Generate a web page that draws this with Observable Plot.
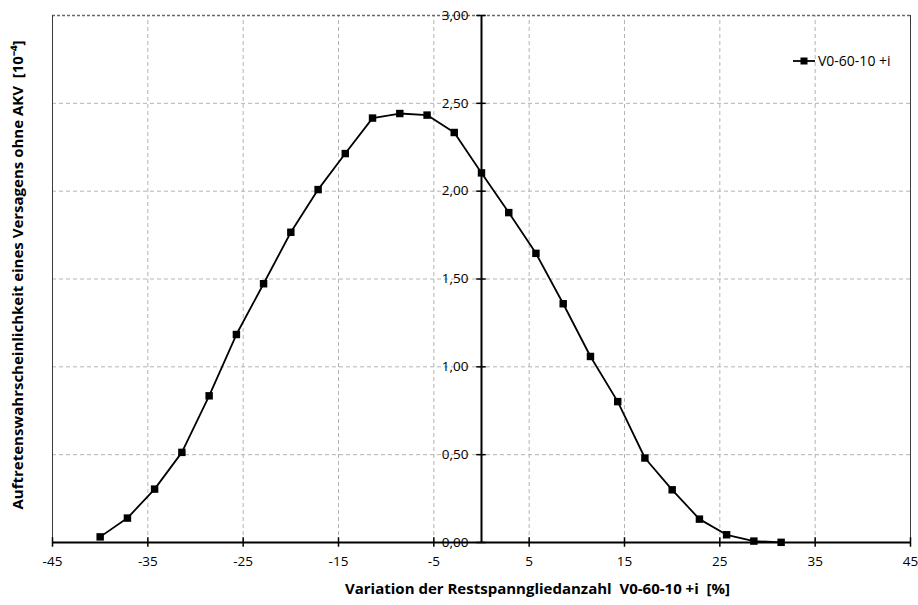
<!DOCTYPE html>
<html>
<head>
<meta charset="utf-8">
<script src="https://cdn.jsdelivr.net/npm/d3@7"></script>
<script src="https://cdn.jsdelivr.net/npm/@observablehq/plot@0.6"></script>
<style>
  html, body { margin: 0; padding: 0; background: #fff; }
  #wrap { position: relative; width: 918px; height: 605px; font-family: "Open Sans", sans-serif; }
  #wrap svg text { white-space: pre; }
  #legend { position: absolute; left: 792px; top: 51px; font-size: 14px; display: flex; align-items: center; color: #000; }
</style>
</head>
<body>
<div id="wrap"></div>
<script>
const xValues = [-40, -37.14, -34.29, -31.43, -28.57, -25.71, -22.86, -20, -17.14, -14.29, -11.43, -8.57, -5.71, -2.86, 0, 2.86, 5.71, 8.57, 11.43, 14.29, 17.14, 20, 22.86, 25.71, 28.57, 31.43];
const yValues = [0.032, 0.139, 0.304, 0.513, 0.835, 1.184, 1.473, 1.766, 2.009, 2.214, 2.416, 2.442, 2.433, 2.334, 2.104, 1.878, 1.646, 1.359, 1.059, 0.802, 0.481, 0.300, 0.133, 0.044, 0.008, 0.001];
const xTicks = [-45, -35, -25, -15, -5, 5, 15, 25, 35, 45];
const yTicks = [0, 0.5, 1, 1.5, 2, 2.5, 3];
const seriesName = "V0-60-10 +i";
const xTitle = "Variation der Restspanngliedanzahl\u00a0 V0-60-10 +i\u00a0 [%]";
const yTitle = "Auftretenswahrscheinlichkeit eines Versagens ohne AKV\u00a0 [10\u207B\u2074]";

const data = xValues.map((x, i) => ({x, y: yValues[i]}));
const fmt = d => d.toFixed(2).replace(".", ",");
const innerX = xTicks.filter(d => d !== -45 && d !== 45);
const innerY = yTicks.filter(d => d !== 0 && d !== 3);

const chart = Plot.plot({
  width: 918,
  height: 605,
  marginLeft: 52,
  marginRight: 8,
  marginTop: 15,
  marginBottom: 63,
  x: {domain: [-45, 45], axis: null},
  y: {domain: [0, 3], axis: null},
  style: {fontFamily: "Open Sans, sans-serif", fontSize: "13px", color: "#000", background: "#fff"},
  marks: [
    Plot.ruleX(innerX, {x: d => d, y1: 0, y2: 3, stroke: "#b4b4b4", strokeDasharray: "4,3"}),
    Plot.ruleY(innerY, {y: d => d, x1: -45, x2: 45, stroke: "#b4b4b4", strokeDasharray: "4,3"}),
    Plot.ruleY([3], {y: d => d, x1: -45, x2: 45, stroke: "#6a6a6a", strokeWidth: 1.5, strokeDasharray: "3,2"}),
    Plot.ruleX([-45, 45], {x: d => d, y1: 0, y2: 3, stroke: "#3a3a3a", strokeWidth: 1}),
    Plot.ruleX([0], {x: d => d, y1: 0, y2: 3, stroke: "#000", strokeWidth: 2}),
    Plot.ruleY([0], {y: d => d, x1: -45, x2: 45, stroke: "#000", strokeWidth: 2}),
    Plot.ruleY(yTicks, {y: d => d, x1: -0.5, x2: 0.5, stroke: "#000", strokeWidth: 1.5}),
    Plot.ruleX(xTicks, {x: d => d, y1: -0.027, y2: 0.027, stroke: "#000", strokeWidth: 1.5}),
    Plot.text(yTicks, {x: 0, y: d => d, text: fmt, textAnchor: "end", dx: -13, fontSize: 13.5}),
    Plot.text(xTicks, {x: d => d, y: 0, text: d => String(d), dy: 19, fontSize: 13.5}),
    Plot.line(data, {x: "x", y: "y", stroke: "#000", strokeWidth: 1.8}),
    Plot.dot(data, {x: "x", y: "y", symbol: "square", fill: "#000", r: 4.2}),
    Plot.text([xTitle], {text: d => d, frameAnchor: "bottom", textAnchor: "middle", lineAnchor: "middle", dx: 56, dy: 47, fontWeight: "bold", fontSize: 15}),
    Plot.text([yTitle], {text: d => d, frameAnchor: "left", textAnchor: "middle", lineAnchor: "middle", rotate: -90, dx: -34, dy: -4, fontWeight: "bold", fontSize: 15})
  ]
});

const wrap = document.getElementById("wrap");
wrap.appendChild(chart);

const legend = document.createElement("div");
legend.id = "legend";
legend.innerHTML = `<svg width="24" height="10" style="margin-right:2px"><line x1="1" y1="5" x2="23" y2="5" stroke="#000" stroke-width="1.8"></line><rect x="8.5" y="1.5" width="7" height="7" fill="#000"></rect></svg><span>${seriesName}</span>`;
wrap.appendChild(legend);
</script>
</body>
</html>
